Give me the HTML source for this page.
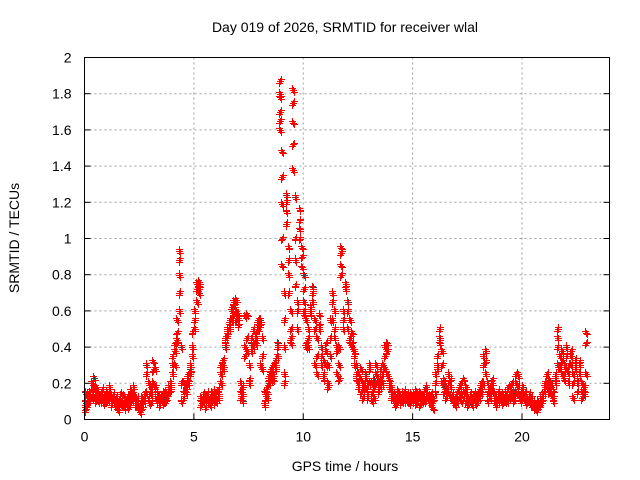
<!DOCTYPE html>
<html><head><meta charset="utf-8"><style>
html,body{margin:0;padding:0;background:#fff;width:640px;height:480px;overflow:hidden}
svg{display:block;font-family:"Liberation Sans",sans-serif}
</style></head><body>
<svg id="chart" width="640" height="480" viewBox="0 0 640 480">
<text x="345" y="32" font-size="14" text-anchor="middle" fill="#000">Day 019 of 2026, SRMTID for receiver wlal</text>
<text x="0" y="0" font-size="14" text-anchor="middle" fill="#000" transform="translate(19,238) rotate(-90)">SRMTID / TECUs</text>
<text x="345" y="471" font-size="14" text-anchor="middle" fill="#000">GPS time / hours</text>
<g id="grid"></g>
<g id="ticks"></g>
<g id="marks"></g>
<rect x="84.5" y="57.5" width="525" height="362" fill="none" stroke="#000" stroke-width="1"/>
</svg>
<script>
const xTicks=[0,5,10,15,20];
const yTicks=[0,0.2,0.4,0.6,0.8,1,1.2,1.4,1.6,1.8,2];
const yTickLabels=["0","0.2","0.4","0.6","0.8","1","1.2","1.4","1.6","1.8","2"];
const hours=[0,0.1,0.2,0.3,0.4,0.5,0.6,0.7,0.8,0.9,1.0,1.1,1.2,1.3,1.4,1.5,1.6,1.7,1.8,1.9,2.0,2.1,2.2,2.3,2.4,2.5,2.6,2.7,2.8,2.9,3.0,3.1,3.2,3.3,3.4,3.5,3.6,3.7,3.8,3.9,4.0,4.1,4.2,4.3,4.4,4.5,4.6,4.7,4.8,4.9,5.0,5.1,5.2,5.3,5.4,5.5,5.6,5.7,5.8,5.9,6.0,6.1,6.2,6.3,6.4,6.5,6.6,6.7,6.8,6.9,7.0,7.1,7.2,7.3,7.4,7.5,7.6,7.7,7.8,7.9,8.0,8.1,8.2,8.3,8.4,8.5,8.6,8.7,8.8,8.9,9.0,9.1,9.2,9.3,9.4,9.5,9.6,9.7,9.8,9.9,10.0,10.1,10.2,10.3,10.4,10.5,10.6,10.7,10.8,10.9,11.0,11.1,11.2,11.3,11.4,11.5,11.6,11.7,11.8,11.9,12.0,12.1,12.2,12.3,12.4,12.5,12.6,12.7,12.8,12.9,13.0,13.1,13.2,13.3,13.4,13.5,13.6,13.7,13.8,13.9,14.0,14.1,14.2,14.3,14.4,14.5,14.6,14.7,14.8,14.9,15.0,15.1,15.2,15.3,15.4,15.5,15.6,15.7,15.8,15.9,16.0,16.1,16.2,16.3,16.4,16.5,16.6,16.7,16.8,16.9,17.0,17.1,17.2,17.3,17.4,17.5,17.6,17.7,17.8,17.9,18.0,18.1,18.2,18.3,18.4,18.5,18.6,18.7,18.8,18.9,19.0,19.1,19.2,19.3,19.4,19.5,19.6,19.7,19.8,19.9,20.0,20.1,20.2,20.3,20.4,20.5,20.6,20.7,20.8,20.9,21.0,21.1,21.2,21.3,21.4,21.5,21.6,21.7,21.8,21.9,22.0,22.1,22.2,22.3,22.4,22.5,22.6,22.7,22.8,22.9];
const srmtid=[[0.15,0.05,0.1,0.08],[0.12,0.08,0.14],[0.15,0.1,0.12],[0.2,0.13,0.16],[0.23,0.12,0.18],[0.18,0.1,0.14],[0.15,0.12,0.1],[0.1,0.14,0.12],[0.12,0.17,0.1],[0.13,0.09,0.11],[0.15,0.1,0.12],[0.18,0.11,0.14],[0.13,0.08,0.1],[0.1,0.14,0.12],[0.07,0.12,0.1],[0.05,0.1,0.08],[0.11,0.14,0.09],[0.08,0.13,0.1],[0.06,0.1,0.12],[0.1,0.12,0.08],[0.13,0.07,0.1],[0.16,0.1,0.12],[0.18,0.11,0.14],[0.1,0.08,0.12],[0.07,0.12,0.09],[0.04,0.08,0.06],[0.1,0.06,0.12],[0.12,0.14,0.1],[0.3,0.25,0.15],[0.2,0.12,0.1],[0.14,0.09,0.18],[0.32,0.27,0.2],[0.28,0.18,0.12],[0.15,0.1,0.12],[0.12,0.08,0.1],[0.1,0.14,0.12],[0.12,0.09,0.15],[0.15,0.1,0.12],[0.18,0.14,0.16],[0.2,0.16,0.18],[0.3,0.35,0.25],[0.38,0.42,0.3],[0.44,0.42,0.55,0.48],[0.6,0.7,0.8,0.88,0.93],[0.4,0.2,0.1],[0.2,0.12,0.15],[0.18,0.2,0.15],[0.2,0.25,0.22],[0.28,0.25,0.3],[0.35,0.48,0.4],[0.5,0.55,0.6],[0.65,0.72,0.75],[0.7,0.74,0.76,0.72],[0.12,0.08,0.1],[0.1,0.14,0.12],[0.13,0.07,0.1],[0.1,0.15,0.12],[0.08,0.12,0.1],[0.13,0.1,0.15],[0.16,0.09,0.12],[0.12,0.15,0.1],[0.14,0.17,0.12],[0.2,0.3,0.25],[0.3,0.33,0.28],[0.4,0.45,0.42],[0.48,0.46,0.5],[0.5,0.55,0.52],[0.6,0.62,0.55],[0.63,0.58,0.65],[0.6,0.55,0.66],[0.56,0.52,0.58],[0.2,0.12,0.15],[0.1,0.18,0.14],[0.4,0.35,0.57],[0.58,0.45,0.38],[0.3,0.22,0.2],[0.42,0.45,0.38],[0.42,0.5,0.4],[0.45,0.48,0.42],[0.5,0.55,0.53],[0.55,0.52,0.3],[0.45,0.35,0.28],[0.15,0.1,0.08],[0.12,0.18,0.15],[0.2,0.24,0.22],[0.25,0.28,0.22],[0.25,0.3,0.22],[0.3,0.33,0.28],[0.42,0.4,0.35],[1.6,1.7,1.8,1.87,1.78,1.65],[1.48,1.34,1.19,1.0,0.85],[0.7,0.55,0.4,0.2,0.25],[1.24,1.2,1.15,1.08],[0.95,0.88,0.8,0.7],[0.6,0.5,0.42,0.45],[1.82,1.75,1.64,1.52,1.38],[1.23,1.0,0.88,0.74],[0.65,0.6,0.5],[1.16,1.1,1.05,1.0],[0.95,0.9,0.84],[0.8,0.72,0.65,0.6,0.58],[0.4,0.42,0.55],[0.5,0.45,0.4],[0.62,0.6,0.58],[0.73,0.7,0.65],[0.55,0.5,0.3],[0.25,0.35,0.45],[0.58,0.52,0.5],[0.4,0.35,0.3],[0.32,0.25,0.22],[0.38,0.42,0.3],[0.2,0.18,0.3],[0.35,0.45,0.55],[0.55,0.65,0.7],[0.6,0.5,0.45],[0.4,0.38,0.25],[0.3,0.22,0.4],[0.95,0.92,0.85,0.8],[0.6,0.55,0.5],[0.75,0.74,0.72],[0.65,0.6,0.5],[0.55,0.45,0.42],[0.48,0.42,0.4],[0.38,0.35,0.3],[0.3,0.25,0.22],[0.2,0.18,0.25],[0.22,0.15,0.28],[0.2,0.12,0.18],[0.25,0.22,0.18],[0.15,0.12,0.2],[0.3,0.28,0.2],[0.1,0.15,0.2],[0.22,0.18,0.12],[0.25,0.2,0.3],[0.18,0.15,0.22],[0.22,0.28,0.18],[0.2,0.25,0.3],[0.4,0.35,0.28],[0.42,0.38,0.25],[0.22,0.2,0.18],[0.15,0.12,0.18],[0.1,0.14,0.12],[0.12,0.08,0.1],[0.16,0.1,0.12],[0.13,0.09,0.11],[0.15,0.12,0.1],[0.1,0.16,0.13],[0.12,0.14,0.1],[0.09,0.13,0.11],[0.12,0.1,0.14],[0.14,0.1,0.12],[0.16,0.09,0.12],[0.12,0.1,0.14],[0.15,0.08,0.11],[0.1,0.13,0.12],[0.12,0.16,0.1],[0.18,0.11,0.14],[0.1,0.13,0.12],[0.08,0.14,0.1],[0.06,0.1,0.12],[0.15,0.2,0.25],[0.3,0.35,0.28],[0.42,0.5,0.45],[0.38,0.3,0.2],[0.18,0.15,0.22],[0.15,0.12,0.18],[0.25,0.2,0.15],[0.18,0.22,0.12],[0.1,0.14,0.12],[0.08,0.12,0.1],[0.1,0.15,0.12],[0.12,0.18,0.14],[0.1,0.2,0.15],[0.15,0.12,0.22],[0.18,0.1,0.14],[0.12,0.08,0.1],[0.1,0.14,0.12],[0.08,0.12,0.1],[0.1,0.15,0.12],[0.13,0.09,0.11],[0.12,0.16,0.14],[0.15,0.2,0.18],[0.2,0.3,0.35],[0.38,0.32,0.25],[0.2,0.15,0.1],[0.12,0.18,0.15],[0.2,0.22,0.16],[0.15,0.12,0.1],[0.1,0.08,0.12],[0.12,0.16,0.1],[0.1,0.14,0.12],[0.13,0.09,0.11],[0.15,0.12,0.1],[0.1,0.17,0.13],[0.18,0.14,0.12],[0.12,0.2,0.15],[0.15,0.1,0.12],[0.2,0.25,0.15],[0.24,0.18,0.14],[0.12,0.15,0.1],[0.18,0.12,0.14],[0.1,0.15,0.12],[0.12,0.09,0.11],[0.1,0.14,0.12],[0.08,0.12,0.1],[0.06,0.1,0.08],[0.05,0.08,0.07],[0.1,0.06,0.08],[0.12,0.08,0.1],[0.14,0.1,0.12],[0.15,0.2,0.18],[0.2,0.25,0.18],[0.22,0.15,0.18],[0.2,0.18,0.14],[0.16,0.12,0.1],[0.22,0.25,0.2],[0.3,0.4,0.45,0.5],[0.35,0.3,0.28],[0.38,0.32,0.25],[0.3,0.25,0.22],[0.4,0.35,0.28],[0.25,0.3,0.2],[0.35,0.38,0.3],[0.25,0.2,0.12],[0.3,0.33,0.28],[0.22,0.15,0.2],[0.3,0.32,0.25],[0.15,0.12,0.2],[0.14,0.18,0.16],[0.48,0.42,0.25]];
const X0=84.5,X1=609.5,Y0=419.5,Y1=57.5,XMAX=24,YMAX=2;
function sx(h){return X0+(X1-X0)*h/XMAX;}
function sy(v){return Y0-(Y0-Y1)*v/YMAX;}
const NS="http://www.w3.org/2000/svg";
const grid=document.getElementById('grid'),ticks=document.getElementById('ticks'),marks=document.getElementById('marks');
function mk(tag,parent,attrs){const e=document.createElementNS(NS,tag);for(const k in attrs)e.setAttribute(k,attrs[k]);parent.appendChild(e);return e;}
xTicks.forEach(function(t){
  const x=sx(t);
  if(t>0){const g=mk('line',grid,{x1:x,x2:x,y1:Y1,y2:Y0,stroke:'#a0a0a0','stroke-dasharray':'2,3'});
  
  }
  const tk=mk('line',ticks,{x1:x,x2:x,y1:Y0,y2:Y0-6,stroke:'#000'});
  
  
  const tx=mk('text',ticks,{x:x,y:Y0+22,'font-size':14,'text-anchor':'middle',fill:'#000'});
  tx.textContent=String(t);
  
  
});
yTicks.forEach(function(t,i){
  const y=sy(t);
  if(t>0&&t<YMAX){const g=mk('line',grid,{x1:X0,x2:X1,y1:y,y2:y,stroke:'#a0a0a0','stroke-dasharray':'2,3'});
  
  }
  const tk=mk('line',ticks,{x1:X0,x2:X0+6,y1:y,y2:y,stroke:'#000'});
  
  
  const tk2=mk('line',ticks,{x1:X1,x2:X1-6,y1:y,y2:y,stroke:'#000'});
  
  
  const tx=mk('text',ticks,{x:X0-13,y:y+5,'font-size':14,'text-anchor':'end',fill:'#000'});
  tx.textContent=yTickLabels[i];
  
  
});
hours.forEach(function(h,i){
  srmtid[i].forEach(function(v,j){
    [0,0.033,0.066].forEach(function(dh,k){
      const x=Math.round(sx(h+dh))+0.5, y=Math.round(sy(v+(k-1)*0.01*(j%2?1:-1)))+0.5;
      const dark=(k===1&&j===0&&i%4===0);
      const p=mk('path',marks,{d:'M'+(x-3.5)+' '+y+'h7M'+x+' '+(y-3.5)+'v7',stroke:dark?'#404040':'#ff0000','stroke-width':1,fill:'none'});
      
      
    });
  });
});
// bring red marks over dark ones
Array.from(marks.childNodes).filter(function(n){return n.getAttribute('stroke')==='#ff0000';}).forEach(function(n){marks.appendChild(n);});
</script>
</body></html>
